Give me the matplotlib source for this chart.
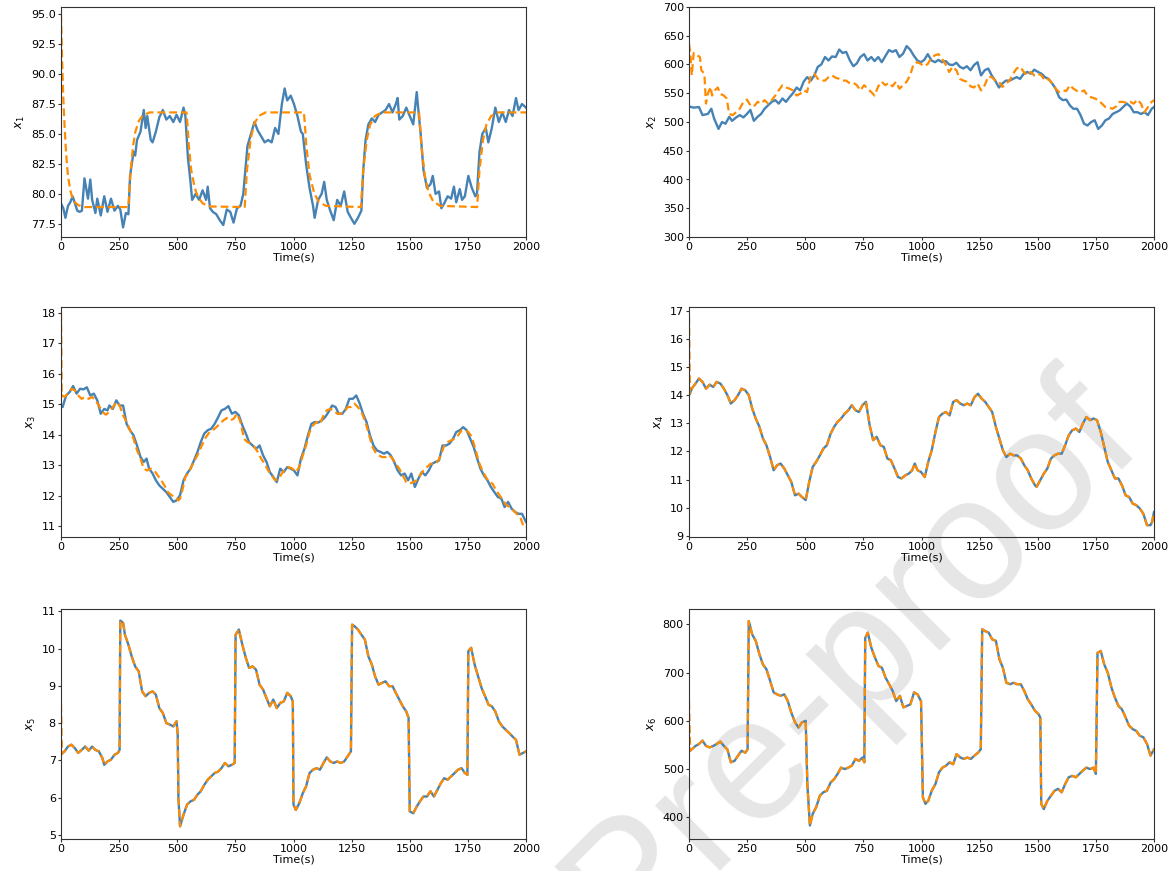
import matplotlib
matplotlib.use("Agg")
import matplotlib.pyplot as plt

x1_meas = [(0, 79.2), (10, 78.8), (19, 78.0), (30, 79.0), (40, 79.3), (50, 79.8), (60, 79.2), (70, 78.6),
           (80, 78.5), (90, 78.6), (101, 81.3), (116, 79.6), (126, 81.2), (134, 79.5), (148, 78.4),
           (156, 79.6), (171, 78.2), (186, 79.8), (200, 78.5), (215, 79.6), (230, 78.6), (245, 79.0),
           (255, 78.7), (267, 77.2), (279, 78.4), (290, 78.3), (297, 81.5), (312, 83.5), (319, 83.2),
           (327, 84.5), (342, 85.2), (356, 87.0), (364, 85.5), (371, 86.5), (386, 84.5), (394, 84.3),
           (408, 85.2), (423, 86.4), (438, 87.0), (453, 86.2), (468, 86.5), (483, 86.0), (497, 86.6),
           (512, 86.0), (527, 87.2), (535, 86.5), (546, 83.0), (557, 81.0), (564, 79.5), (579, 80.0),
           (594, 79.5), (609, 80.3), (624, 79.5), (631, 80.6), (641, 78.8), (653, 78.5), (668, 78.3),
           (683, 77.8), (698, 77.4), (713, 78.7), (728, 78.5), (742, 77.6), (757, 78.8), (772, 79.0),
           (784, 80.0), (795, 82.5), (802, 84.0), (817, 85.0), (832, 86.0), (846, 85.3), (861, 84.8),
           (876, 84.3), (891, 84.5), (906, 84.3), (921, 85.5), (935, 85.0), (950, 87.5), (962, 88.8),
           (973, 87.8), (988, 88.2), (1002, 87.5), (1017, 86.5), (1032, 85.2), (1040, 85.0), (1054, 82.5),
           (1069, 80.5), (1084, 79.0), (1091, 78.0), (1106, 79.5), (1121, 80.0), (1132, 81.0), (1143, 79.5),
           (1158, 78.6), (1173, 77.8), (1188, 79.5), (1203, 79.0), (1218, 80.2), (1233, 78.5), (1247, 78.0),
           (1262, 77.5), (1277, 78.0), (1292, 78.6), (1300, 82.0), (1310, 84.5), (1322, 85.8), (1337, 86.3),
           (1351, 86.0), (1366, 86.6), (1381, 86.8), (1396, 87.0), (1411, 87.5), (1426, 86.8), (1440, 87.5),
           (1448, 88.0), (1455, 86.2), (1470, 86.5), (1485, 87.2), (1500, 86.5), (1515, 85.8), (1530, 88.5),
           (1537, 87.0), (1547, 85.0), (1559, 82.0), (1574, 80.5), (1589, 80.8), (1599, 81.5), (1611, 80.0),
           (1626, 80.2), (1636, 78.8), (1648, 79.2), (1663, 79.8), (1678, 79.6), (1690, 80.6), (1700, 79.3),
           (1715, 80.4), (1725, 79.5), (1737, 79.8), (1752, 81.5), (1767, 80.5), (1782, 79.8), (1789, 80.0),
           (1800, 83.5), (1812, 85.0), (1827, 85.5), (1838, 84.3), (1853, 85.5), (1868, 87.2), (1883, 86.0),
           (1898, 86.8), (1913, 86.0), (1927, 87.0), (1942, 86.5), (1957, 88.0), (1968, 87.0), (1983, 87.5),
           (2000, 87.2)]
x1_est = [(0, 95.0), (5, 91.0), (10, 88.0), (15, 85.8), (20, 84.0), (25, 82.6), (30, 81.5), (40, 80.3),
          (50, 79.6), (60, 79.3), (75, 79.05), (100, 78.9), (290, 78.9), (295, 80.5), (300, 82.0),
          (310, 84.0), (320, 85.2), (335, 86.1), (350, 86.5), (380, 86.8), (540, 86.8), (545, 85.5),
          (550, 84.0), (560, 82.0), (575, 80.5), (590, 79.7), (610, 79.2), (640, 78.95), (790, 78.9),
          (795, 80.5), (800, 82.0), (815, 84.5), (830, 85.8), (850, 86.5), (880, 86.8), (1045, 86.8),
          (1050, 85.5), (1055, 84.0), (1070, 81.5), (1090, 80.0), (1110, 79.3), (1140, 79.0), (1290, 78.9),
          (1295, 80.5), (1300, 82.0), (1315, 84.5), (1330, 85.8), (1350, 86.5), (1380, 86.8), (1540, 86.8),
          (1545, 85.5), (1550, 84.0), (1565, 81.5), (1580, 80.2), (1600, 79.4), (1630, 79.0), (1790, 78.9),
          (1795, 80.5), (1800, 82.0), (1815, 84.5), (1830, 85.8), (1850, 86.5), (1880, 86.8), (2000, 86.8)]

x2_meas = [(0, 527), (20, 525), (43, 526), (58, 512), (81, 514), (96, 523), (108, 506), (127, 488),
           (142, 500), (157, 497), (173, 509), (185, 502), (203, 508), (218, 512), (234, 508), (249, 514),
           (264, 521), (279, 502), (295, 509), (310, 514), (325, 523), (340, 529), (356, 535), (371, 538),
           (386, 532), (402, 541), (417, 535), (432, 543), (447, 550), (463, 560), (478, 555), (493, 570),
           (508, 578), (524, 572), (539, 581), (554, 596), (569, 600), (585, 613), (600, 607), (615, 614),
           (631, 613), (646, 626), (661, 620), (676, 622), (692, 607), (707, 597), (722, 602), (737, 613),
           (753, 618), (768, 607), (784, 613), (798, 606), (814, 613), (829, 604), (844, 614), (860, 625),
           (875, 622), (890, 625), (905, 613), (921, 619), (936, 632), (951, 626), (966, 616), (982, 607),
           (997, 604), (1012, 608), (1027, 618), (1043, 607), (1058, 604), (1073, 608), (1088, 604),
           (1104, 606), (1119, 600), (1134, 599), (1150, 603), (1165, 596), (1180, 593), (1195, 597),
           (1211, 590), (1226, 599), (1241, 604), (1256, 581), (1272, 590), (1287, 593), (1302, 581),
           (1317, 572), (1333, 560), (1348, 567), (1363, 572), (1379, 572), (1394, 575), (1409, 578),
           (1424, 575), (1440, 584), (1455, 587), (1470, 584), (1485, 591), (1501, 587), (1516, 584),
           (1531, 578), (1546, 575), (1562, 567), (1577, 558), (1592, 543), (1608, 538), (1623, 539),
           (1638, 529), (1653, 523), (1669, 523), (1684, 512), (1699, 497), (1714, 494), (1730, 500),
           (1745, 503), (1760, 488), (1776, 494), (1791, 503), (1806, 506), (1822, 514), (1837, 517),
           (1852, 520), (1867, 526), (1883, 532), (1898, 527), (1913, 517), (1929, 517), (1944, 514),
           (1959, 517), (1974, 512), (1990, 523), (2000, 526)]
x2_est = [(0, 636), (5, 622), (12, 581), (20, 620), (35, 616), (47, 613), (53, 590), (66, 584), (73, 532),
          (81, 549), (93, 561), (99, 546), (111, 555), (124, 560), (134, 549), (150, 546), (162, 541),
          (173, 514), (188, 512), (203, 517), (218, 523), (234, 535), (249, 539), (264, 529), (279, 527),
          (295, 535), (310, 532), (325, 538), (340, 532), (356, 538), (371, 546), (386, 555), (402, 564),
          (417, 560), (432, 558), (447, 555), (463, 546), (478, 549), (493, 555), (508, 552), (524, 581),
          (539, 584), (554, 575), (569, 572), (585, 572), (600, 578), (615, 581), (631, 577), (646, 575),
          (661, 572), (676, 572), (692, 567), (707, 568), (722, 564), (737, 555), (753, 564), (768, 558),
          (784, 552), (798, 546), (814, 562), (829, 570), (844, 564), (860, 568), (875, 562), (890, 570),
          (905, 558), (921, 564), (936, 570), (951, 581), (966, 601), (982, 604), (997, 601), (1012, 597),
          (1027, 601), (1043, 612), (1058, 616), (1073, 618), (1088, 610), (1104, 600), (1119, 587),
          (1134, 596), (1150, 590), (1165, 575), (1180, 572), (1195, 570), (1211, 562), (1226, 560),
          (1241, 567), (1256, 555), (1272, 564), (1287, 579), (1302, 578), (1317, 572), (1333, 570),
          (1348, 561), (1363, 567), (1379, 572), (1394, 584), (1409, 593), (1424, 596), (1440, 587),
          (1455, 581), (1470, 587), (1485, 581), (1501, 584), (1516, 581), (1531, 572), (1546, 575),
          (1562, 567), (1577, 558), (1592, 552), (1608, 555), (1623, 554), (1638, 564), (1653, 558),
          (1669, 554), (1684, 552), (1699, 555), (1714, 546), (1730, 543), (1745, 541), (1760, 538),
          (1776, 532), (1791, 526), (1806, 525), (1822, 523), (1837, 527), (1852, 535), (1867, 535),
          (1883, 533), (1898, 535), (1913, 532), (1929, 539), (1944, 532), (1959, 517), (1974, 526),
          (1990, 535), (2000, 538)]

x3_meas = [(0, 14.96), (7, 14.91), (22, 15.29), (37, 15.40), (52, 15.60), (67, 15.35), (82, 15.51),
           (97, 15.49), (111, 15.56), (126, 15.29), (141, 15.35), (156, 15.13), (171, 14.69), (186, 14.85),
           (200, 14.80), (208, 14.96), (223, 14.85), (238, 15.13), (252, 14.96), (267, 14.96), (282, 14.36),
           (297, 14.15), (312, 13.98), (327, 13.65), (342, 13.27), (356, 13.11), (368, 13.22), (379, 12.89),
           (394, 12.73), (408, 12.51), (423, 12.34), (438, 12.23), (453, 12.12), (468, 11.96), (483, 11.80),
           (497, 11.85), (512, 12.02), (527, 12.51), (542, 12.73), (557, 12.89), (572, 13.16), (587, 13.44),
           (601, 13.76), (616, 14.04), (631, 14.15), (646, 14.20), (661, 14.36), (676, 14.58), (690, 14.80),
           (705, 14.85), (720, 14.94), (735, 14.69), (750, 14.75), (765, 14.64), (780, 14.31), (795, 14.04),
           (809, 13.76), (824, 13.65), (839, 13.54), (854, 13.65), (869, 13.33), (884, 13.11), (898, 12.78),
           (913, 12.62), (928, 12.45), (943, 12.89), (958, 12.78), (973, 12.94), (988, 12.89), (1002, 12.83),
           (1017, 12.67), (1032, 13.22), (1047, 13.54), (1062, 13.98), (1077, 14.36), (1091, 14.42),
           (1106, 14.40), (1121, 14.47), (1136, 14.58), (1151, 14.75), (1166, 14.96), (1181, 14.91),
           (1195, 14.69), (1210, 14.69), (1225, 14.85), (1240, 15.18), (1255, 15.18), (1270, 15.29),
           (1285, 15.02), (1299, 14.69), (1314, 14.42), (1329, 13.98), (1344, 13.65), (1359, 13.49),
           (1374, 13.44), (1389, 13.38), (1403, 13.44), (1418, 13.33), (1433, 13.11), (1448, 12.83),
           (1463, 12.67), (1478, 12.73), (1493, 12.51), (1507, 12.73), (1522, 12.29), (1537, 12.56),
           (1552, 12.78), (1567, 12.67), (1582, 12.83), (1596, 13.05), (1611, 13.11), (1626, 13.16),
           (1641, 13.65), (1656, 13.65), (1671, 13.71), (1686, 13.87), (1700, 14.09), (1715, 14.15),
           (1730, 14.25), (1745, 14.15), (1760, 13.87), (1775, 13.60), (1790, 13.22), (1804, 12.89),
           (1819, 12.67), (1834, 12.51), (1849, 12.29), (1864, 12.12), (1879, 11.96), (1894, 11.91),
           (1908, 11.63), (1923, 11.80), (1938, 11.58), (1953, 11.47), (1968, 11.41), (1983, 11.41),
           (2000, 11.14)]
x3_est = [(0, 18.0), (3, 15.3), (15, 15.24), (30, 15.35), (45, 15.51), (59, 15.46), (74, 15.29), (89, 15.18),
          (104, 15.24), (119, 15.18), (134, 15.24), (148, 15.13), (163, 14.96), (178, 14.75), (193, 14.66),
          (208, 14.75), (223, 14.91), (238, 15.07), (252, 14.96), (267, 14.64), (282, 14.42), (297, 14.15),
          (312, 13.87), (327, 13.49), (342, 13.22), (356, 12.89), (371, 12.83), (386, 12.89), (401, 12.83),
          (416, 12.67), (431, 12.51), (445, 12.34), (460, 12.12), (475, 12.02), (490, 11.96), (505, 11.85),
          (512, 11.91), (520, 12.12), (535, 12.62), (549, 12.78), (564, 13.00), (579, 13.22), (594, 13.44),
          (609, 13.71), (624, 13.93), (639, 14.09), (653, 14.15), (668, 14.25), (683, 14.36), (698, 14.47),
          (713, 14.55), (728, 14.47), (743, 14.53), (757, 14.69), (772, 14.42), (787, 13.87), (802, 13.76),
          (817, 13.71), (832, 13.60), (846, 13.44), (861, 13.22), (876, 13.05), (891, 12.83), (906, 12.67),
          (921, 12.51), (936, 12.56), (950, 12.73), (965, 12.89), (980, 12.94), (995, 12.89), (1010, 12.78),
          (1025, 12.94), (1040, 13.33), (1054, 13.65), (1069, 14.09), (1084, 14.31), (1099, 14.42),
          (1114, 14.36), (1129, 14.64), (1143, 14.80), (1158, 14.85), (1173, 14.80), (1188, 14.69),
          (1203, 14.69), (1218, 14.75), (1233, 14.91), (1247, 14.91), (1262, 15.02), (1277, 14.91),
          (1292, 14.75), (1307, 14.47), (1322, 14.09), (1337, 13.65), (1351, 13.44), (1366, 13.33),
          (1381, 13.27), (1396, 13.27), (1411, 13.33), (1426, 13.22), (1440, 13.05), (1455, 12.89),
          (1470, 12.67), (1485, 12.45), (1500, 12.40), (1515, 12.45), (1530, 12.51), (1544, 12.67),
          (1559, 12.83), (1574, 12.94), (1589, 13.05), (1604, 13.05), (1619, 13.11), (1634, 13.33),
          (1648, 13.65), (1663, 13.76), (1678, 13.82), (1693, 13.87), (1708, 13.98), (1723, 14.15),
          (1737, 14.15), (1752, 14.09), (1767, 13.93), (1782, 13.54), (1797, 13.11), (1812, 12.83),
          (1827, 12.62), (1841, 12.45), (1856, 12.40), (1871, 12.18), (1886, 12.02), (1901, 11.85),
          (1916, 11.69), (1931, 11.63), (1946, 11.52), (1960, 11.41), (1975, 11.31), (1990, 10.98),
          (2000, 10.98)]

x4_meas = [(0, 14.0), (4, 14.05), (12, 14.23), (28, 14.41), (43, 14.59), (58, 14.47), (73, 14.23), (89, 14.37),
           (104, 14.29), (119, 14.47), (135, 14.41), (150, 14.23), (165, 14.0), (180, 13.70), (196, 13.82),
           (211, 14.0), (226, 14.23), (242, 14.17), (257, 14.0), (272, 13.52), (287, 13.17), (303, 12.87),
           (318, 12.46), (333, 12.22), (349, 11.80), (364, 11.33), (379, 11.51), (394, 11.57), (410, 11.39),
           (425, 11.15), (440, 10.92), (456, 10.44), (471, 10.50), (486, 10.38), (502, 10.27), (517, 10.92),
           (532, 11.45), (547, 11.63), (563, 11.86), (578, 12.10), (593, 12.22), (609, 12.63), (624, 12.87),
           (639, 13.05), (654, 13.17), (670, 13.34), (685, 13.46), (700, 13.64), (716, 13.46), (731, 13.40),
           (746, 13.64), (761, 13.76), (777, 12.93), (792, 12.40), (807, 12.52), (823, 12.22), (838, 12.16),
           (853, 11.75), (868, 11.69), (884, 11.39), (899, 11.09), (914, 11.04), (930, 11.15), (945, 11.21),
           (960, 11.33), (971, 11.57), (983, 11.33), (998, 11.27), (1014, 11.09), (1029, 11.63), (1044, 12.04),
           (1060, 12.69), (1075, 13.22), (1090, 13.34), (1105, 13.40), (1121, 13.28), (1136, 13.76),
           (1151, 13.82), (1167, 13.70), (1182, 13.64), (1197, 13.70), (1212, 13.64), (1228, 13.93),
           (1243, 14.05), (1258, 13.88), (1274, 13.76), (1289, 13.58), (1304, 13.40), (1320, 12.87),
           (1335, 12.46), (1350, 12.04), (1365, 11.80), (1381, 11.92), (1396, 11.86), (1411, 11.86),
           (1427, 11.75), (1442, 11.51), (1457, 11.33), (1472, 11.04), (1488, 10.80), (1495, 10.74),
           (1511, 10.98), (1526, 11.21), (1541, 11.39), (1557, 11.75), (1572, 11.86), (1587, 11.92),
           (1603, 11.92), (1618, 12.22), (1633, 12.57), (1648, 12.75), (1664, 12.81), (1679, 12.69),
           (1694, 12.99), (1709, 13.22), (1725, 13.11), (1740, 13.17), (1755, 13.11), (1771, 12.69),
           (1786, 12.16), (1801, 11.63), (1817, 11.33), (1832, 11.04), (1847, 11.04), (1862, 10.80),
           (1878, 10.44), (1893, 10.38), (1908, 10.15), (1924, 10.09), (1939, 9.97), (1954, 9.79),
           (1970, 9.38), (1985, 9.38), (1992, 9.50), (2000, 9.85)]
x4_start = 16.8

x5_meas = [(0, 7.15), (4, 7.18), (15, 7.24), (30, 7.37), (45, 7.42), (59, 7.33), (74, 7.20), (89, 7.28),
           (104, 7.37), (119, 7.26), (134, 7.37), (148, 7.28), (163, 7.24), (178, 7.06), (186, 6.88),
           (200, 6.97), (215, 7.02), (230, 7.15), (245, 7.20), (252, 7.28), (255, 10.75), (267, 10.69),
           (275, 10.37), (290, 10.10), (304, 9.79), (319, 9.52), (334, 9.39), (349, 8.85), (364, 8.72),
           (379, 8.81), (394, 8.85), (408, 8.76), (423, 8.40), (438, 8.27), (453, 8.00), (468, 7.96),
           (483, 7.91), (497, 8.05), (502, 7.69), (505, 5.99), (512, 5.23), (527, 5.54), (542, 5.81),
           (557, 5.90), (572, 5.94), (587, 6.08), (601, 6.17), (616, 6.34), (631, 6.48), (646, 6.57),
           (661, 6.66), (676, 6.70), (690, 6.79), (705, 6.93), (720, 6.84), (735, 6.88), (747, 6.93),
           (751, 10.37), (765, 10.51), (780, 10.10), (795, 9.75), (809, 9.48), (824, 9.52), (839, 9.43),
           (854, 9.03), (869, 8.90), (884, 8.67), (898, 8.45), (913, 8.63), (928, 8.40), (943, 8.54),
           (958, 8.58), (973, 8.81), (988, 8.72), (997, 8.58), (1000, 5.81), (1010, 5.67), (1025, 5.85),
           (1040, 6.12), (1054, 6.30), (1069, 6.66), (1084, 6.75), (1099, 6.79), (1114, 6.75), (1129, 6.93),
           (1143, 7.08), (1158, 6.97), (1173, 6.93), (1188, 6.97), (1203, 6.93), (1218, 6.97), (1233, 7.11),
           (1247, 7.24), (1252, 10.64), (1262, 10.60), (1277, 10.51), (1292, 10.37), (1307, 10.24),
           (1322, 9.79), (1337, 9.57), (1351, 9.25), (1366, 9.03), (1381, 9.08), (1396, 9.12), (1411, 8.99),
           (1426, 8.99), (1440, 8.81), (1455, 8.63), (1470, 8.45), (1485, 8.31), (1495, 8.14), (1500, 5.63),
           (1515, 5.58), (1530, 5.76), (1544, 5.90), (1559, 6.03), (1574, 6.03), (1589, 6.17), (1604, 6.03),
           (1619, 6.21), (1634, 6.39), (1648, 6.52), (1663, 6.48), (1678, 6.57), (1693, 6.66), (1708, 6.75),
           (1723, 6.79), (1737, 6.66), (1748, 6.61), (1752, 9.93), (1764, 10.02), (1779, 9.57), (1794, 9.25),
           (1809, 8.94), (1824, 8.72), (1839, 8.49), (1853, 8.45), (1868, 8.31), (1883, 8.05), (1898, 7.91),
           (1913, 7.82), (1928, 7.73), (1942, 7.64), (1957, 7.55), (1972, 7.15), (1987, 7.20), (2000, 7.24)]
x5_start = 8.5

x6_meas = [(0, 545), (5, 538), (12, 541), (28, 548), (43, 552), (58, 559), (73, 548), (89, 545), (104, 548),
           (119, 552), (135, 557), (150, 548), (165, 541), (180, 514), (196, 517), (211, 528), (226, 538),
           (242, 534), (252, 541), (257, 807), (272, 779), (287, 766), (303, 738), (318, 717), (333, 707),
           (349, 683), (364, 659), (379, 655), (394, 652), (410, 655), (425, 641), (440, 617), (456, 597),
           (471, 586), (486, 597), (502, 600), (509, 469), (520, 383), (532, 407), (547, 421), (563, 445),
           (578, 452), (593, 455), (609, 472), (624, 479), (639, 490), (654, 503), (670, 500), (685, 503),
           (700, 507), (716, 521), (731, 517), (746, 524), (754, 514), (758, 772), (769, 783), (784, 752),
           (800, 731), (815, 714), (830, 710), (845, 690), (861, 676), (876, 662), (891, 641), (907, 652),
           (922, 628), (937, 631), (952, 634), (968, 659), (983, 655), (998, 641), (1006, 441), (1017, 428),
           (1029, 434), (1044, 455), (1060, 469), (1075, 493), (1090, 503), (1105, 507), (1121, 514),
           (1136, 510), (1151, 531), (1167, 524), (1182, 521), (1197, 524), (1212, 521), (1228, 528),
           (1243, 534), (1255, 541), (1261, 790), (1274, 786), (1289, 783), (1304, 769), (1320, 766),
           (1335, 728), (1350, 710), (1365, 679), (1381, 676), (1396, 679), (1411, 676), (1427, 676),
           (1442, 662), (1457, 645), (1472, 634), (1488, 621), (1503, 614), (1511, 607), (1515, 428),
           (1526, 417), (1541, 434), (1557, 445), (1572, 455), (1587, 459), (1603, 452), (1618, 469),
           (1633, 483), (1648, 486), (1664, 483), (1679, 490), (1694, 497), (1709, 503), (1725, 500),
           (1740, 503), (1750, 490), (1757, 741), (1771, 745), (1786, 717), (1801, 700), (1817, 669),
           (1832, 648), (1847, 631), (1862, 624), (1878, 607), (1893, 590), (1908, 583), (1924, 579),
           (1939, 569), (1954, 566), (1970, 552), (1985, 528), (2000, 541)]
x6_start = 640

y_labels = ["$x_1$", "$x_2$", "$x_3$", "$x_4$", "$x_5$", "$x_6$"]
y_limits = [(76.4, 95.6), (300, 700), (10.65, 18.19), (8.96, 17.13), (4.89, 11.06), (355, 832)]
x_ticks = [0, 250, 500, 750, 1000, 1250, 1500, 1750, 2000]

# estimates for x4..x6 follow the measurement after the initial spike
x4_est = [(0, x4_start)] + x4_meas[1:]
x5_est = [(0, x5_start)] + x5_meas[1:]
x6_est = [(0, x6_start)] + x6_meas[1:]

series = [(x1_meas, x1_est), (x2_meas, x2_est), (x3_meas, x3_est),
          (x4_meas, x4_est), (x5_meas, x5_est), (x6_meas, x6_est)]

W, H = 1176, 871
fig = plt.figure(figsize=(W / 100, H / 100), dpi=100)

col_left = [61, 689]
row_top = [7, 307, 609]
ax_w, ax_h = 465, 230

for i, (meas, est) in enumerate(series):
    r, c = divmod(i, 2)
    ax = fig.add_axes([col_left[c] / W, 1 - (row_top[r] + ax_h) / H, ax_w / W, ax_h / H])
    ax.set_facecolor("none")
    tm, vm = zip(*meas)
    te, ve = zip(*est)
    ax.plot(tm, vm, color="steelblue", lw=1.7)
    ax.plot(te, ve, color="darkorange", lw=1.6, ls="--", dashes=(3.5, 1.8))
    ax.set_xlim(0, 2000)
    ax.set_ylim(*y_limits[i])
    ax.set_xticks(x_ticks)
    ax.tick_params(labelsize=8, length=2.5, pad=1.2, color="#333333")
    ax.set_xlabel("Time(s)", fontsize=8, labelpad=0)
    ax.set_ylabel(y_labels[i], fontsize=8.5, labelpad=3)
    for s in ax.spines.values():
        s.set_color("#333333")

# watermark of the source page, partly off the canvas as in the reference
fig.text(0.9745, 0.488, "Journal Pre-proof", rotation=45, rotation_mode="anchor",
         ha="right", va="baseline", fontsize=126, color="#e6e6e6",
         family="Liberation Sans", zorder=-1)

fig.savefig("out.png", dpi=100)
